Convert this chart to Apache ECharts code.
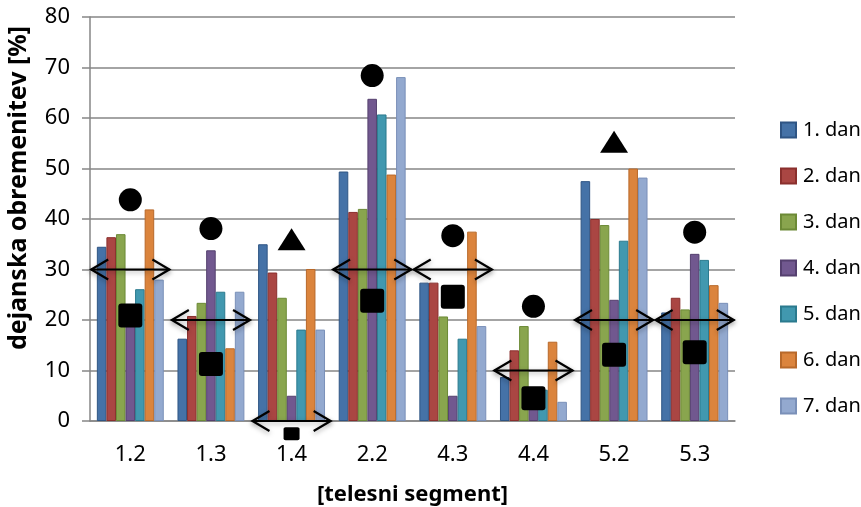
<!DOCTYPE html>
<html>
<head>
<meta charset="utf-8">
<script src="https://cdn.jsdelivr.net/npm/echarts@6/dist/echarts.min.js"></script>
<style>
  html, body { margin: 0; padding: 0; background: #fff; }
  #chart { width: 861px; height: 507px; }
</style>
</head>
<body>
<div id="chart"></div>
<script>
// Body segments on the x axis
const segments = ['1.2', '1.3', '1.4', '2.2', '4.3', '4.4', '5.2', '5.3'];

// Actual load per day [%]
const day1 = [34.5, 16.3, 35.0, 49.4, 27.4, 8.7, 47.5, 21.5];
const day2 = [36.4, 20.8, 29.4, 41.4, 27.4, 14.0, 40.0, 24.4];
const day3 = [37.0, 23.4, 24.4, 42.0, 20.7, 18.8, 38.8, 22.1];
const day4 = [20.5, 33.8, 5.0, 63.8, 5.0, 5.0, 24.0, 33.1];
const day5 = [26.1, 25.6, 18.1, 60.7, 16.3, 6.2, 35.7, 31.9];
const day6 = [41.9, 14.4, 30.1, 48.8, 37.5, 15.7, 50.0, 26.9];
const day7 = [28.0, 25.6, 18.1, 68.1, 18.8, 3.8, 48.2, 23.4];

const dayNames = ['1. dan', '2. dan', '3. dan', '4. dan', '5. dan', '6. dan', '7. dan'];
const dayValues = [day1, day2, day3, day4, day5, day6, day7];

// Overlay markers per segment
const circleValues = [43.8, 38.1, null, 68.4, 36.7, 22.7, null, 37.4];
const triangleValues = [null, null, 36.0, null, null, null, 55.3, null];
const squareValues = [20.9, 11.3, -2.5, 23.8, 24.6, 4.5, 13.1, 13.6];
const arrowValues = [30, 20, 0, 30, 30, 10, 20, 20];

// Y axis ticks
const yTicks = [0, 10, 20, 30, 40, 50, 60, 70, 80];

const fills = ['#4572A7', '#AA4643', '#89A54E', '#71588F', '#4198AF', '#DB843D', '#93A9CF'];
const borders = ['#2F5584', '#8A2F2D', '#6C8A36', '#55406F', '#2B7A8E', '#B8692A', '#7A90B8'];

const FONT = 'Noto Sans';

// Square with slightly rounded corners
const SQUARE = 'path://M3,0 H21 Q24,0 24,3 V21 Q24,24 21,24 H3 Q0,24 0,21 V3 Q0,0 3,0 Z';

const barSeries = dayValues.map((vals, i) => ({
  name: dayNames[i],
  type: 'bar',
  data: vals,
  barGap: '0%',
  barCategoryGap: '17%',
  itemStyle: { color: fills[i], borderColor: borders[i], borderWidth: 1 },
  z: 2
}));

const chart = echarts.init(document.getElementById('chart'), null, { renderer: 'canvas' });

chart.setOption({
  animation: false,
  backgroundColor: '#ffffff',
  grid: { left: 90, right: 126, top: 17, bottom: 86, containLabel: false, outerBoundsMode: 'none' },
  legend: {
    orient: 'vertical',
    left: 775,
    top: 115,
    itemWidth: 15,
    itemHeight: 15,
    itemGap: 26,
    icon: 'rect',
    data: dayNames,
    textStyle: { fontFamily: FONT, fontSize: 20, color: '#000', lineHeight: 20, padding: [0, 0, 0, 2] }
  },
  xAxis: {
    type: 'category',
    data: segments,
    name: '[telesni segment]',
    nameLocation: 'middle',
    nameGap: 63,
    nameTextStyle: { fontFamily: FONT, fontSize: 22, fontWeight: 'bold', color: '#000' },
    axisLine: { lineStyle: { color: '#868686', width: 1.5 } },
    axisTick: { show: false },
    axisLabel: { fontFamily: FONT, fontSize: 22, color: '#000', margin: 23 }
  },
  yAxis: {
    type: 'value',
    min: yTicks[0],
    max: yTicks[yTicks.length - 1],
    interval: 10,
    axisLine: { show: true, lineStyle: { color: '#868686', width: 1.5 } },
    axisTick: { show: true, length: 8, lineStyle: { color: '#868686', width: 1.5 } },
    splitLine: { lineStyle: { color: '#868686', width: 1.5 } },
    axisLabel: { fontFamily: FONT, fontSize: 22, color: '#000', margin: 20 }
  },
  graphic: [{
    type: 'text',
    x: 19,
    y: 188,
    rotation: Math.PI / 2,
    style: {
      text: 'dejanska obremenitev [%]',
      fontFamily: FONT,
      fontSize: 25,
      fontWeight: 'bold',
      fill: '#000',
      align: 'center',
      verticalAlign: 'middle'
    }
  }],
  series: barSeries.concat([
    {
      name: 'arrows',
      type: 'custom',
      clip: false,
      z: 5,
      data: arrowValues.map((v, i) => [i, v]),
      renderItem: function (params, api) {
        const p = api.coord([api.value(0), api.value(1)]);
        const band = api.size([1, 0])[0];
        const half = band * 0.485;
        const x1 = p[0] - half, x2 = p[0] + half, y = p[1];
        const hx = 17, hy = 10;
        const style = {
          stroke: '#000', lineWidth: 2.2, fill: null,
          shadowBlur: 5, shadowColor: 'rgba(0,0,0,0.35)', shadowOffsetY: 2
        };
        return {
          type: 'group',
          children: [
            { type: 'line', shape: { x1: x1, y1: y, x2: x2, y2: y }, style: style },
            { type: 'polyline', shape: { points: [[x1 + hx, y - hy], [x1, y], [x1 + hx, y + hy]] }, style: style },
            { type: 'polyline', shape: { points: [[x2 - hx, y - hy], [x2, y], [x2 - hx, y + hy]] }, style: style }
          ]
        };
      }
    },
    {
      name: 'circles',
      type: 'scatter',
      clip: false,
      z: 6,
      symbol: 'circle',
      symbolSize: 23,
      itemStyle: { color: '#000', opacity: 1 },
      data: circleValues
    },
    {
      name: 'triangles',
      type: 'scatter',
      clip: false,
      z: 6,
      symbol: 'triangle',
      symbolSize: [28, 22],
      itemStyle: { color: '#000', opacity: 1 },
      data: triangleValues
    },
    {
      name: 'squares',
      type: 'scatter',
      clip: false,
      z: 6,
      symbol: SQUARE,
      symbolKeepAspect: false,
      symbolSize: function (val, params) { return params.dataIndex === 2 ? [16, 13] : 24; },
      itemStyle: { color: '#000', opacity: 1 },
      data: squareValues
    }
  ])
});
</script>
</body>
</html>
